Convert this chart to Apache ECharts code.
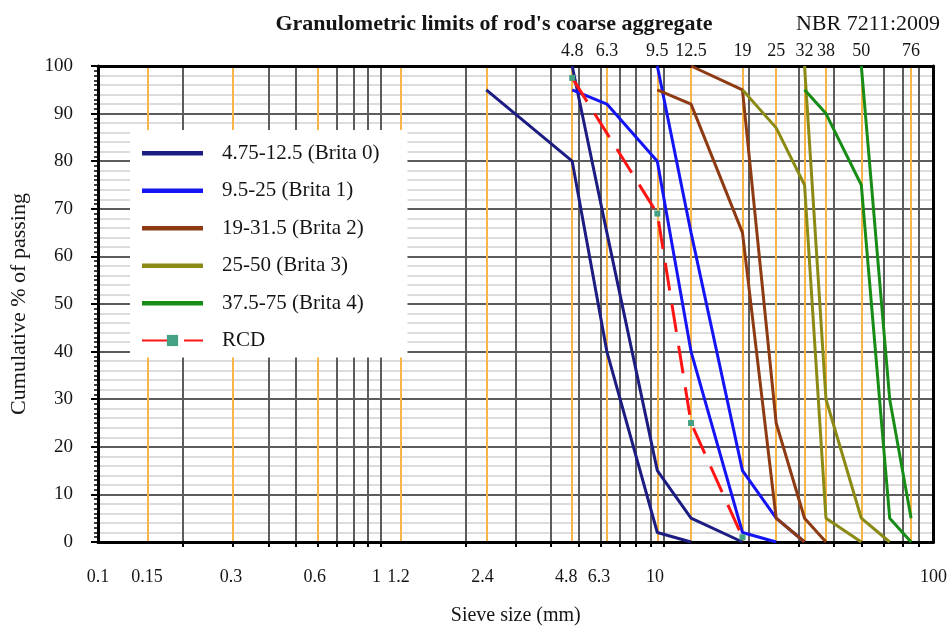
<!DOCTYPE html>
<html>
<head>
<meta charset="utf-8">
<script src="https://cdn.jsdelivr.net/npm/echarts@6/dist/echarts.min.js"></script>
<style>html,body{margin:0;padding:0;background:#fff}#c{width:950px;height:631px}</style>
</head>
<body>
<div id="c"></div>
<script>
// ---- tick labels / grid values ----
const bottomLabels = [0.1, 0.15, 0.3, 0.6, 1, 1.2, 2.4, 4.8, 6.3, 10, 100];
const topSieves = [4.75, 6.3, 9.5, 12.5, 19, 25, 31.5, 37.5, 50, 75];
const topLabels = ['4.8', '6.3', '9.5', '12.5', '19', '25', '32', '38', '50', '76'];
const orangeSieves = [0.15, 0.3, 0.6, 1.18, 2.36, 4.75, 6.3, 9.5, 12.5, 19, 25, 31.5, 37.5, 50, 75];
const logGrid = [0.2, 0.3, 0.4, 0.5, 0.6, 0.7, 0.8, 0.9, 1, 2, 3, 4, 5, 6, 7, 8, 9, 10, 20, 30, 40, 50, 60, 70, 80];

// ---- series names ----
const names = ['4.75-12.5 (Brita 0)', '9.5-25 (Brita 1)', '19-31.5 (Brita 2)', '25-50 (Brita 3)', '37.5-75 (Brita 4)', 'RCD'];

// ---- data: [sieve size (mm), %] ----
const brita0Low = [[2.36, 95], [4.75, 80], [6.3, 40], [9.5, 2], [12.5, 0]];
const brita0High = [[4.75, 100], [6.3, 65], [9.5, 15], [12.5, 5], [19, 0]];
const brita1Low = [[4.75, 95], [6.3, 92], [9.5, 80], [12.5, 40], [19, 2], [25, 0]];
const brita1High = [[9.5, 100], [12.5, 65], [19, 15], [25, 5], [31.5, 0]];
const brita2Low = [[9.5, 95], [12.5, 92], [19, 65], [25, 5], [31.5, 0]];
const brita2High = [[12.5, 100], [19, 95], [25, 25], [31.5, 5], [37.5, 0]];
const brita3Low = [[19, 95], [25, 87], [31.5, 75], [37.5, 5], [50, 0]];
const brita3High = [[31.5, 100], [37.5, 30], [50, 5], [63, 0]];
const brita4Low = [[31.5, 95], [37.5, 90], [50, 75], [63, 5], [75, 0]];
const brita4High = [[50, 100], [63, 30], [75, 5]];
const rcd = [[4.75, 97.5], [9.5, 69], [12.5, 25], [19, 1]];

const colors = ['#1c1c82', '#1414f5', '#8e3a12', '#8a8a14', '#178c17', '#ff1414'];
const serif = 'Liberation Serif';
const txt = '#151515';
// flat bar legend icon (thin line, centred in the 61x14 icon box)
const barIcon = 'path://M0,0L0,0M0,14L0,14M0,5L61,5L61,9.5L0,9.5Z';

function lim(name, color, data) {
  return {
    type: 'line', name: name, data: data, xAxisIndex: 0, yAxisIndex: 0,
    symbol: 'none', lineStyle: { color: color, width: 3 }, itemStyle: { color: color },
    z: 3
  };
}

const series = [
  lim(names[0], colors[0], brita0Low), lim(names[0], colors[0], brita0High),
  lim(names[1], colors[1], brita1Low), lim(names[1], colors[1], brita1High),
  lim(names[2], colors[2], brita2Low), lim(names[2], colors[2], brita2High),
  lim(names[3], colors[3], brita3Low), lim(names[3], colors[3], brita3High),
  lim(names[4], colors[4], brita4Low), lim(names[4], colors[4], brita4High),
  {
    type: 'line', name: names[5], data: rcd, xAxisIndex: 0, yAxisIndex: 0,
    symbol: 'rect', symbolSize: 6, showSymbol: true,
    itemStyle: { color: '#45a184' },
    lineStyle: { color: colors[5], width: 3, type: [28, 14] },
    z: 4
  }
];

const legendData = names.map(function (n, i) {
  return i < 5 ? { name: n, icon: barIcon } : { name: n };
});

const chart = echarts.init(document.getElementById('c'), null, { renderer: 'canvas' });
chart.setOption({
  animation: false,
  backgroundColor: '#ffffff',
  title: [
    { text: "Granulometric limits of rod's coarse aggregate", left: 489, top: 8, textAlign: 'center',
      textStyle: { fontFamily: serif, fontWeight: 'bold', fontSize: 22, color: txt } },
    { text: 'NBR 7211:2009', right: 5, top: 8,
      textStyle: { fontFamily: serif, fontWeight: 'normal', fontSize: 22, color: txt } }
  ],
  legend: {
    data: legendData, orient: 'vertical', left: 130, top: 130,
    itemWidth: 61, itemHeight: 14, itemGap: 15.5,
    backgroundColor: '#ffffff', padding: [12, 28, 6, 11],
    textStyle: { fontFamily: serif, fontSize: 21, color: txt, lineHeight: 22, padding: [0, 0, 0, 14] }
  },
  grid: { left: 97.5, right: 13.5, top: 66, bottom: 89, containLabel: false },
  xAxis: [
    { // data axis: log grid
      type: 'log', logBase: 10, min: 0.1, max: 90, position: 'bottom',
      axisLine: { show: true, onZero: false, lineStyle: { color: '#000', width: 3 } },
      axisTick: { show: true, inside: false, length: 5, customValues: logGrid, lineStyle: { color: '#000', width: 2 } },
      axisLabel: { show: false },
      splitLine: { show: true, lineStyle: { color: '#5c5c5c', width: 2 } }
    },
    { // bottom labels
      type: 'log', logBase: 10, min: 0.1, max: 100, position: 'bottom',
      axisLine: { show: false }, axisTick: { show: false },
      axisLabel: { show: true, customValues: bottomLabels, margin: 26, fontFamily: serif, fontSize: 18, color: txt,
        formatter: function (v) { return String(+(+v).toPrecision(3)); } },
      splitLine: { show: false },
      name: 'Sieve size (mm)', nameLocation: 'middle', nameGap: 64,
      nameTextStyle: { fontFamily: serif, fontSize: 20, color: txt }
    },
    { // top sieve labels and orange lines
      type: 'log', logBase: 10, min: 0.1, max: 90, position: 'top',
      axisLine: { show: true, onZero: false, lineStyle: { color: '#000', width: 3 } },
      axisTick: { show: false, customValues: orangeSieves },
      axisLabel: { show: true, customValues: topSieves, margin: 6, fontFamily: serif, fontSize: 18, color: txt,
        formatter: function (v) {
          let best = 0;
          for (let i = 0; i < topSieves.length; i++) {
            if (Math.abs(topSieves[i] - v) < Math.abs(topSieves[best] - v)) best = i;
          }
          return topLabels[best];
        } },
      splitLine: { show: true, lineStyle: { color: '#f7b548', width: 2 } }
    }
  ],
  yAxis: [
    {
      type: 'value', min: 0, max: 100, interval: 10, position: 'left',
      axisLine: { show: true, onZero: false, lineStyle: { color: '#000', width: 3 } },
      axisTick: { show: true, inside: false, length: 7, lineStyle: { color: '#000', width: 2 } },
      minorTick: { show: true, splitNumber: 10, length: 4, lineStyle: { color: '#000', width: 1.5 } },
      axisLabel: { margin: 25, fontFamily: serif, fontSize: 19, color: txt },
      splitLine: { show: true, lineStyle: { color: '#5c5c5c', width: 2 } },
      name: 'Cumulative % of passing', nameLocation: 'middle', nameGap: 68, nameRotate: 90,
      nameTextStyle: { fontFamily: serif, fontSize: 22, color: txt }
    },
    {
      type: 'value', min: 0, max: 100, interval: 10, position: 'right',
      axisLine: { show: true, onZero: false, lineStyle: { color: '#000', width: 3 } },
      axisTick: { show: false }, axisLabel: { show: false },
      splitLine: { show: false },
      minorTick: { show: false, splitNumber: 5 },
      minorSplitLine: { show: true, lineStyle: { color: '#dcdcdc', width: 2 } }
    }
  ],
  series: series
});
</script>
</body>
</html>
